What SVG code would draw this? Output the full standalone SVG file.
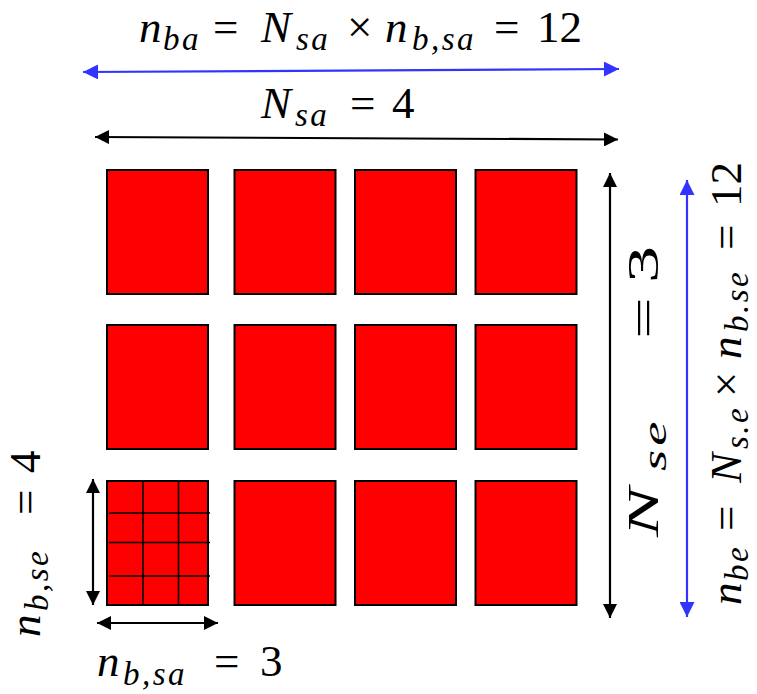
<svg xmlns="http://www.w3.org/2000/svg" width="757" height="694" viewBox="0 0 757 694">
<defs>
<style>
.blk{fill:#ff0000;stroke:#000;stroke-width:2}
.grid{stroke:#000;stroke-width:1.6;fill:none}
.ak{stroke:#000;stroke-width:2.2;fill:none}
.ab{stroke:#3333ff;stroke-width:2.2;fill:none}
.lbl{font-family:'Liberation Serif','Times New Roman',serif;font-size:45px;fill:#000}
.i{font-style:italic}
.s{font-style:italic;font-size:33px;letter-spacing:2.5px}
</style>
<marker id="hk" viewBox="0 0 14 14" refX="14" refY="7" markerWidth="14" markerHeight="14" markerUnits="userSpaceOnUse" orient="auto-start-reverse"><path d="M0,0 L14,7 L0,14 Z" fill="#000"/></marker>
<marker id="hb" viewBox="0 0 15 15" refX="15" refY="7.5" markerWidth="15" markerHeight="15" markerUnits="userSpaceOnUse" orient="auto-start-reverse"><path d="M0,0 L15,7.5 L0,15 Z" fill="#3333ff"/></marker>
</defs>
<rect width="757" height="694" fill="#fff"/>
<g id="b11"><rect class="blk" x="107" y="170" width="101" height="124"/></g>
<g id="b12"><rect class="blk" x="234.5" y="170" width="101" height="124"/></g>
<g id="b13"><rect class="blk" x="355" y="170" width="101" height="124"/></g>
<g id="b14"><rect class="blk" x="475.5" y="170" width="101" height="124"/></g>
<g id="b21"><rect class="blk" x="107" y="325" width="101" height="124"/></g>
<g id="b22"><rect class="blk" x="234.5" y="325" width="101" height="124"/></g>
<g id="b23"><rect class="blk" x="355" y="325" width="101" height="124"/></g>
<g id="b24"><rect class="blk" x="475.5" y="325" width="101" height="124"/></g>
<g id="b31"><rect class="blk" x="107" y="481" width="101" height="124"/>
<path class="grid" d="M143,481 V605 M178.5,481 V605 M109,513 H210 M109,542.5 H210 M109,576 H210"/></g>
<g id="b32"><rect class="blk" x="234.5" y="481" width="101" height="124"/></g>
<g id="b33"><rect class="blk" x="355" y="481" width="101" height="124"/></g>
<g id="b34"><rect class="blk" x="475.5" y="481" width="101" height="124"/></g>
<g id="connectors">
<line class="ab" x1="83" y1="72" x2="619" y2="69" marker-start="url(#hb)" marker-end="url(#hb)"/>
<line class="ak" x1="95" y1="137" x2="618" y2="139.5" marker-start="url(#hk)" marker-end="url(#hk)"/>
<line class="ak" x1="610" y1="173" x2="610" y2="618" marker-start="url(#hk)" marker-end="url(#hk)"/>
<line class="ab" x1="687" y1="180" x2="687" y2="617" marker-start="url(#hb)" marker-end="url(#hb)"/>
<line class="ak" x1="93" y1="479" x2="93" y2="605" marker-start="url(#hk)" marker-end="url(#hk)"/>
<line class="ak" x1="97" y1="623" x2="218" y2="623" marker-start="url(#hk)" marker-end="url(#hk)"/>
</g>
<g id="label-top">
<text class="lbl" y="42"><tspan class="i" x="139">n</tspan><tspan class="s" x="163" dy="8">ba</tspan><tspan x="213" dy="-8">=</tspan><tspan class="i" x="261">N</tspan><tspan class="s" x="296" dy="8">sa</tspan><tspan x="347" dy="-8">×</tspan><tspan class="i" x="385">n</tspan><tspan class="s" x="412" dy="8">b,sa</tspan><tspan x="494" dy="-8">=</tspan><tspan x="537">12</tspan></text>
</g>
<g id="label-nsa">
<text class="lbl" y="118"><tspan class="i" x="261">N</tspan><tspan class="s" x="295" dy="8">sa</tspan><tspan x="350" dy="-8">=</tspan><tspan x="392">4</tspan></text>
</g>
<g id="label-bottom">
<text class="lbl" y="676"><tspan class="i" x="97">n</tspan><tspan class="s" x="123" dy="9">b,sa</tspan><tspan x="214" dy="-9">=</tspan><tspan x="260">3</tspan></text>
</g>
<g id="label-nse">
<text class="lbl" transform="translate(658,537) rotate(-90) scale(1.65,1)" y="0"><tspan class="i" x="0">N</tspan><tspan class="s" x="40" dy="8">se</tspan><tspan x="120" dy="-8">=</tspan><tspan x="154">3</tspan></text>
</g>
<g id="label-nbe">
<text class="lbl" transform="translate(741,605) rotate(-90)" y="0"><tspan class="i" x="0">n</tspan><tspan class="s" x="24" dy="7">be</tspan><tspan x="74" dy="-7">=</tspan><tspan class="i" x="122">N</tspan><tspan class="s" x="156" dy="7">s.e</tspan><tspan x="208" dy="-7">×</tspan><tspan class="i" x="246">n</tspan><tspan class="s" x="273" dy="7">b.se</tspan><tspan x="355" dy="-7">=</tspan><tspan x="398">12</tspan></text>
</g>
<g id="label-nbse">
<text class="lbl" transform="translate(40,637) rotate(-90)" y="0"><tspan class="i" x="0">n</tspan><tspan class="s" x="26" dy="8">b,se</tspan><tspan x="122" dy="-8">=</tspan><tspan x="164">4</tspan></text>
</g>
</svg>
